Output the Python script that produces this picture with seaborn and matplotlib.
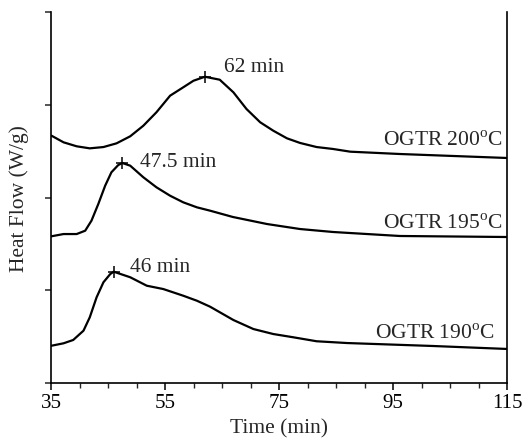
import matplotlib
matplotlib.use("Agg")
import matplotlib.pyplot as plt
import seaborn as sns
import pandas as pd
from matplotlib.ticker import MultipleLocator

# ---- data (arbitrary stacked heat-flow units) ----
t200 = [35.1, 37.2, 39.5, 41.8, 44.2, 46.5, 48.9, 51.2, 53.5, 55.9, 58.2, 60.0, 62.0,
        64.6, 67.0, 69.3, 71.7, 74.0, 76.4, 78.7, 81.6, 84.5, 87.5, 96.2, 115.0]
h200 = [2.666, 2.595, 2.552, 2.530, 2.544, 2.584, 2.660, 2.774, 2.919, 3.098, 3.188, 3.259, 3.302,
        3.270, 3.134, 2.954, 2.811, 2.720, 2.638, 2.588, 2.544, 2.523, 2.494, 2.469, 2.426]

t195 = [35.1, 37.2, 39.5, 41.0, 42.1, 43.3, 44.5, 45.6, 46.8, 47.5, 48.9, 51.2, 53.5,
        55.9, 58.2, 60.6, 62.9, 66.9, 72.9, 78.7, 84.5, 96.2, 115.0]
h195 = [1.582, 1.606, 1.606, 1.642, 1.750, 1.930, 2.127, 2.272, 2.350, 2.372, 2.343, 2.218, 2.110,
        2.019, 1.948, 1.894, 1.858, 1.790, 1.714, 1.660, 1.628, 1.585, 1.574]

t190 = [35.1, 37.2, 38.9, 40.7, 41.8, 43.0, 44.2, 45.4, 46.0, 48.9, 51.8, 54.7, 58.2,
        60.6, 62.9, 67.0, 70.5, 74.0, 77.5, 81.6, 86.9, 102.0, 115.0]
h190 = [0.402, 0.428, 0.464, 0.564, 0.708, 0.924, 1.086, 1.175, 1.200, 1.140, 1.049, 1.013, 0.941,
        0.887, 0.823, 0.679, 0.582, 0.528, 0.493, 0.450, 0.431, 0.399, 0.367]

peak_times = [62.0, 47.5, 46.0]
peak_values = [3.302, 2.372, 1.200]
peak_labels = ["62 min", "47.5 min", "46 min"]
series_labels = ["OGTR 200$^{\\rm o}$C", "OGTR 195$^{\\rm o}$C", "OGTR 190$^{\\rm o}$C"]

x_ticks = [35, 55, 75, 95, 115]

sns.set_style("ticks")
plt.rcParams["font.family"] = ["Liberation Serif", "DejaVu Serif"]
plt.rcParams["mathtext.fontset"] = "custom"
plt.rcParams["mathtext.rm"] = "Liberation Serif"

fig = plt.figure(figsize=(5.26, 4.39), dpi=100)
ax = fig.add_axes([51 / 526, 55 / 439, 456 / 526, 371 / 439])

for t, h in [(t200, h200), (t195, h195), (t190, h190)]:
    df = pd.DataFrame({"t": t, "h": h})
    sns.lineplot(data=df, x="t", y="h", ax=ax, color="black", linewidth=1.6,
                 estimator=None, sort=False)
for line in ax.lines:
    line.set_solid_joinstyle("round")
    line.set_solid_capstyle("round")

ax.plot(peak_times, peak_values, linestyle="none", marker="+", markersize=9,
        markeredgewidth=1.1, color="black")

fs = 15.5
# annotations
ax.text(65.4, 3.41, peak_labels[0], fontsize=fs, ha="left", va="center")
ax.text(50.6, 2.39, peak_labels[1], fontsize=fs, ha="left", va="center")
ax.text(48.9, 1.26, peak_labels[2], fontsize=fs, ha="left", va="center")

ax.text(114.3, 2.62, series_labels[0], fontsize=fs, ha="right", va="center")
ax.text(114.3, 1.72, series_labels[1], fontsize=fs, ha="right", va="center")
ax.text(112.9, 0.54, series_labels[2], fontsize=fs, ha="right", va="center")

ax.set_xlim(35, 115)
ax.set_ylim(0, 4)
ax.set_xticks(x_ticks)
ax.set_xticklabels([str(v) for v in x_ticks])
ax.xaxis.set_minor_locator(MultipleLocator(5))
ax.set_yticks([0, 1, 2, 3, 4])
ax.set_yticklabels([])

ax.set_xlabel("Time (min)", fontsize=fs, labelpad=5)
ax.set_ylabel("Heat Flow (W/g)", fontsize=fs, labelpad=8)

for side in ["left", "bottom", "right"]:
    ax.spines[side].set_visible(True)
    ax.spines[side].set_linewidth(1.2)
    ax.spines[side].set_color("black")
ax.spines["top"].set_visible(False)

ax.tick_params(axis="x", which="major", direction="out", length=5, width=1.1,
               labelsize=15, pad=2, colors="black")
ax.tick_params(axis="x", which="minor", direction="out", length=3.5, width=1.0)
ax.tick_params(axis="y", which="major", direction="out", length=4, width=1.1)

fig.savefig("out.png", dpi=100)
